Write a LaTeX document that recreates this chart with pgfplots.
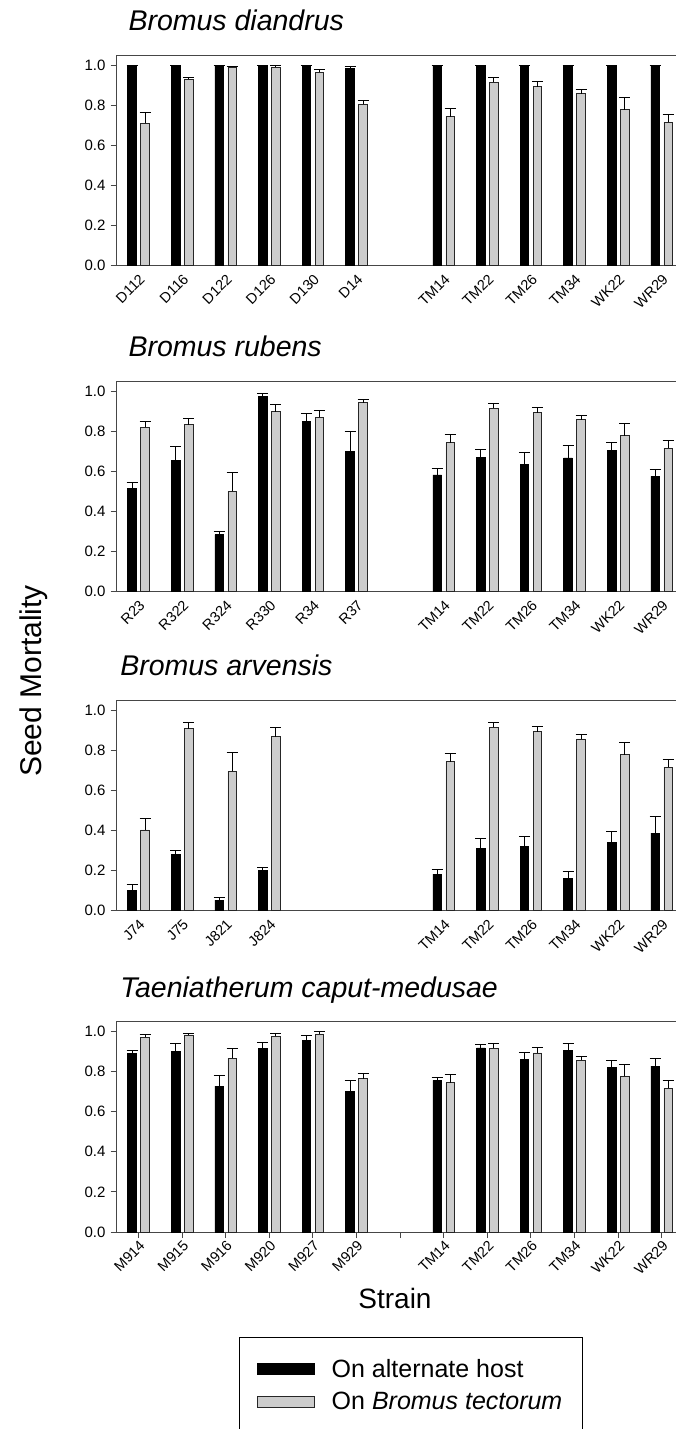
\documentclass[border=0pt]{standalone}
\usepackage{pgfplots}
\usepackage{pgfplotstable}
\pgfplotsset{compat=1.18}
\usepackage{fontspec}
\setmainfont{Liberation Sans}
\definecolor{tectgray}{RGB}{204,204,204}
\definecolor{framegray}{RGB}{70,70,70}

% ---------- data: x = strain slot, y = mean, e = upper error ----------
\pgfplotstableread{
x y e
0 1.000 0.000
1 1.000 0.000
2 1.000 0.000
3 1.000 0.000
4 1.000 0.000
5 0.983 0.013
7 1.000 0.000
8 1.000 0.000
9 1.000 0.000
10 1.000 0.000
11 1.000 0.000
12 1.000 0.000
}\diaAlt
\pgfplotstableread{
x y e
0 0.710 0.055
1 0.930 0.010
2 0.990 0.006
3 0.990 0.008
4 0.966 0.012
5 0.806 0.020
7 0.744 0.038
8 0.916 0.023
9 0.893 0.025
10 0.857 0.020
11 0.778 0.060
12 0.716 0.040
}\diaTec
\pgfplotstableread{
x y e
0 0.517 0.030
1 0.655 0.070
2 0.285 0.015
3 0.975 0.013
4 0.848 0.040
5 0.700 0.100
7 0.583 0.034
8 0.668 0.040
9 0.635 0.057
10 0.667 0.061
11 0.705 0.040
12 0.575 0.033
}\rubAlt
\pgfplotstableread{
x y e
0 0.820 0.030
1 0.834 0.028
2 0.500 0.095
3 0.897 0.035
4 0.870 0.035
5 0.942 0.018
7 0.744 0.038
8 0.916 0.023
9 0.893 0.025
10 0.857 0.020
11 0.778 0.060
12 0.716 0.040
}\rubTec
\pgfplotstableread{
x y e
0 0.102 0.031
1 0.280 0.020
2 0.053 0.014
3 0.202 0.016
7 0.182 0.026
8 0.310 0.052
9 0.320 0.050
10 0.160 0.035
11 0.340 0.057
12 0.387 0.085
}\arvAlt
\pgfplotstableread{
x y e
0 0.403 0.057
1 0.908 0.032
2 0.695 0.095
3 0.867 0.045
7 0.744 0.038
8 0.916 0.023
9 0.893 0.025
10 0.857 0.020
11 0.778 0.060
12 0.716 0.040
}\arvTec
\pgfplotstableread{
x y e
0 0.890 0.017
1 0.900 0.042
2 0.728 0.054
3 0.915 0.028
4 0.955 0.023
5 0.700 0.057
7 0.757 0.016
8 0.918 0.019
9 0.863 0.034
10 0.907 0.033
11 0.822 0.035
12 0.828 0.039
}\taeAlt
\pgfplotstableread{
x y e
0 0.972 0.013
1 0.983 0.009
2 0.868 0.045
3 0.977 0.015
4 0.988 0.012
5 0.765 0.027
7 0.744 0.040
8 0.916 0.025
9 0.893 0.029
10 0.857 0.020
11 0.778 0.060
12 0.716 0.040
}\taeTec

\pgfplotsset{
  panel/.style={
    at={(116.7pt,#1)}, anchor=south west,
    width=566.8pt, height=210.5pt, scale only axis,
    xmin=-0.5, xmax=12.5, ymin=0, ymax=1.05,
    ybar, bar width=8.6pt,
    axis line style={framegray, line width=1pt},
    every tick/.style={framegray, line width=1pt},
    tick align=outside, major tick length=6pt,
    xtick pos=bottom, ytick pos=left,
    xtick={0,...,12}, ytick={0,0.2,0.4,0.6,0.8,1.0},
    /pgf/number format/fixed,
    /pgf/number format/fixed zerofill,
    /pgf/number format/precision=1,
    /pgf/number format/assume math mode=true,
    yticklabel style={font=\fontsize{15}{17}\selectfont, inner sep=2pt, xshift=-3pt},
    xticklabel style={font=\fontsize{14.5}{17}\selectfont, rotate=45, anchor=north east, inner sep=1pt},
    title style={font=\fontsize{28.5}{32}\selectfont\itshape, anchor=base west,
                 at={(axis description cs:0.0205,1)}, yshift=18.5pt, inner sep=0pt},
  },
  noxticks/.style={xtick style={draw=none}},
  altbar/.style={fill=black, draw=black, line width=0.6pt, bar shift=-6.5pt,
    error bars/y dir=plus, error bars/y explicit,
    error bars/error bar style={line width=1pt, black},
    error bars/error mark options={rotate=90, mark size=5.5pt, line width=1pt, black},
    legend image code/.code={\fill[black] (0pt,-5.7pt) rectangle (56.7pt,5.3pt);}},
  tecbar/.style={fill=tectgray, draw=black!85, line width=0.8pt, bar shift=6.5pt,
    error bars/y dir=plus, error bars/y explicit,
    error bars/error bar style={line width=1pt, black},
    error bars/error mark options={rotate=90, mark size=5.5pt, line width=1pt, black},
    legend image code/.code={\filldraw[fill=tectgray, draw=black!85, line width=0.8pt] (0pt,-5.7pt) rectangle (56.7pt,5.3pt);}},
}

\begin{document}
\begin{tikzpicture}
\useasboundingbox (0pt,0pt) rectangle (676pt,-1429pt);
\clip (0pt,0pt) rectangle (676pt,-1429pt);

\begin{axis}[panel={-265.7pt}, noxticks, title={Bromus diandrus},
  xticklabels={D112,D116,D122,D126,D130,D14,,TM14,TM22,TM26,TM34,WK22,WR29}]
\addplot[altbar] table[x=x, y=y, y error=e]{\diaAlt};
\addplot[tecbar] table[x=x, y=y, y error=e]{\diaTec};
\end{axis}

\begin{axis}[panel={-591.7pt}, noxticks, title={Bromus rubens},
  xticklabels={R23,R322,R324,R330,R34,R37,,TM14,TM22,TM26,TM34,WK22,WR29}]
\addplot[altbar] table[x=x, y=y, y error=e]{\rubAlt};
\addplot[tecbar] table[x=x, y=y, y error=e]{\rubTec};
\end{axis}

\begin{axis}[panel={-910.7pt}, noxticks, title={Bromus arvensis},
  title style={at={(axis description cs:0.006,1)}},
  xticklabels={J74,J75,J821,J824,,,,TM14,TM22,TM26,TM34,WK22,WR29},
  ylabel={Seed Mortality},
  ylabel style={at={(axis description cs:-0.1323,1.0912)}, anchor=base, inner sep=0pt,
                font=\fontsize{30}{34}\selectfont}]
\addplot[altbar] table[x=x, y=y, y error=e]{\arvAlt};
\addplot[tecbar] table[x=x, y=y, y error=e]{\arvTec};
\end{axis}

\begin{axis}[panel={-1232pt}, title={Taeniatherum caput-medusae},
  title style={at={(axis description cs:0.006,1)}},
  xticklabels={M914,M915,M916,M920,M927,M929,,TM14,TM22,TM26,TM34,WK22,WR29},
  xlabel={Strain},
  xlabel style={at={(axis description cs:0.491,-0.3625)}, anchor=base, inner sep=0pt,
                font=\fontsize{28}{32}\selectfont},
  legend style={at={(axis description cs:0.2158,-0.4974)}, anchor=north west,
    draw=black, line width=1pt, inner xsep=17.7pt, inner ysep=20pt,
    font=\fontsize{25}{30}\selectfont, row sep=9.5pt, column sep=15pt,
    nodes={inner sep=2pt}},
  legend cell align=left]
\addplot[altbar] table[x=x, y=y, y error=e]{\taeAlt};
\addlegendentry{On alternate host}
\addplot[tecbar] table[x=x, y=y, y error=e]{\taeTec};
\addlegendentry{On \textit{Bromus tectorum}}
\end{axis}
\end{tikzpicture}
\end{document}
